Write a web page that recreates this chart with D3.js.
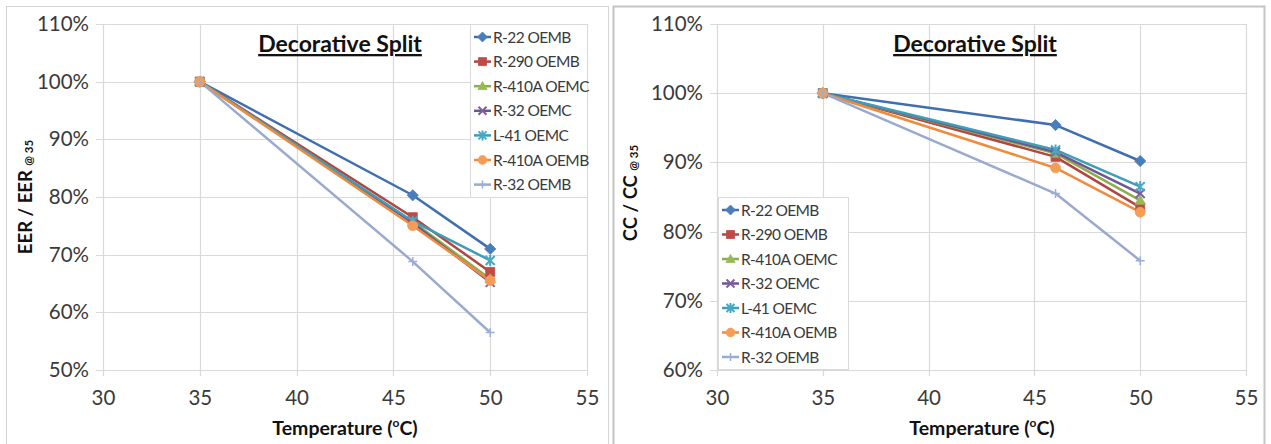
<!DOCTYPE html>
<html>
<head>
<meta charset="utf-8">
<script src="https://cdn.jsdelivr.net/npm/d3@7/dist/d3.min.js"></script>
<style>
  html, body { margin: 0; padding: 0; background: #fff; }
  svg { display: block; font-family: Lato, "Open Sans", sans-serif; }
</style>
</head>
<body>
<svg id="chart" width="1271" height="444"></svg>
<script>
// Temperatures (°C) at which each unit was tested
const temperatures = [35, 46, 50];

// Series names, in legend order
const seriesNames = ["R-22 OEMB", "R-290 OEMB", "R-410A OEMC", "R-32 OEMC", "L-41 OEMC", "R-410A OEMB", "R-32 OEMB"];

// EER normalised to the 35 °C value
const eerR22OEMB   = [1.000, 0.803, 0.710];
const eerR290OEMB  = [1.000, 0.765, 0.670];
const eerR410AOEMC = [1.000, 0.757, 0.658];
const eerR32OEMC   = [1.000, 0.755, 0.652];
const eerL41OEMC   = [1.000, 0.758, 0.690];
const eerR410AOEMB = [1.000, 0.750, 0.655];
const eerR32OEMB   = [1.000, 0.688, 0.565];

// Cooling capacity normalised to the 35 °C value
const ccR22OEMB   = [1.000, 0.954, 0.902];
const ccR290OEMB  = [1.000, 0.908, 0.835];
const ccR410AOEMC = [1.000, 0.913, 0.845];
const ccR32OEMC   = [1.000, 0.915, 0.855];
const ccL41OEMC   = [1.000, 0.918, 0.865];
const ccR410AOEMB = [1.000, 0.892, 0.828];
const ccR32OEMB   = [1.000, 0.855, 0.758];

// Axis ticks
const xTicks = [30, 35, 40, 45, 50, 55];
const eerTicks = [0.5, 0.6, 0.7, 0.8, 0.9, 1.0, 1.1];
const ccTicks = [0.6, 0.7, 0.8, 0.9, 1.0, 1.1];

const chartTitle = "Decorative Split";

// Series styling (colour + marker)
const colors = ["#4A7EBB", "#BE4B48", "#98B954", "#7D60A0", "#46AAC5", "#F59D56", "#9AAED6"];
const lineColors = ["#3F6FAE", "#B04541", "#8AAE4A", "#6E5594", "#3E9DB8", "#EE8B3E", "#9AAACF"];
const markers = ["diamond", "square", "triangle", "x", "star", "circle", "plus"];

const svg = d3.select("#chart");

// Panel frames
svg.append("rect").attr("x", 6.5).attr("y", 6.5).attr("width", 602).attr("height", 450)
  .attr("fill", "#fff").attr("stroke", "#D4D4D4").attr("stroke-width", 1);
svg.append("rect").attr("x", 613.5).attr("y", 6.5).attr("width", 651).attr("height", 450)
  .attr("fill", "#fff").attr("stroke", "#C4C4C4").attr("stroke-width", 2);

function markerPath(type, s) {
  const h = s / 2;
  switch (type) {
    case "diamond": return `M0,${-h * 1.25}L${h * 1.25},0L0,${h * 1.25}L${-h * 1.25},0Z`;
    case "square": return `M${-h},${-h}H${h}V${h}H${-h}Z`;
    case "triangle": return `M0,${-h * 1.15}L${h * 1.15},${h * 0.85}L${-h * 1.15},${h * 0.85}Z`;
    case "circle": return d3.symbol(d3.symbolCircle, Math.PI * h * h * 1.2)();
    default: return null;
  }
}

function drawMarker(g, type, x, y, color, s) {
  const m = g.append("g").attr("transform", `translate(${x},${y})`);
  const h = s / 2;
  if (type === "x") {
    m.append("path").attr("d", `M${-h},${-h}L${h},${h}M${-h},${h}L${h},${-h}`)
      .attr("stroke", color).attr("stroke-width", 2).attr("fill", "none");
  } else if (type === "star") {
    m.append("path").attr("d", `M${-h},${-h}L${h},${h}M${-h},${h}L${h},${-h}M0,${-h - 1}V${h + 1}`)
      .attr("stroke", color).attr("stroke-width", 2).attr("fill", "none");
  } else if (type === "plus") {
    m.append("path").attr("d", `M${-h - 1},0H${h + 1}M0,${-h - 1}V${h + 1}`)
      .attr("stroke", color).attr("stroke-width", 1.5).attr("fill", "none");
  } else {
    m.append("path").attr("d", markerPath(type, s)).attr("fill", color)
      .attr("stroke", color).attr("stroke-width", 0.8);
  }
}

function drawChart(cfg) {
  const x = d3.scaleLinear().domain([30, 55]).range([cfg.left, cfg.right]);
  const y = d3.scaleLinear().domain([cfg.yTicks[0], cfg.yTicks[cfg.yTicks.length - 1]]).range([cfg.bottom, cfg.top]);
  const g = svg.append("g");

  // Grid lines (extend past the plot as tick marks)
  g.append("g").selectAll("line").data(cfg.yTicks).join("line")
    .attr("x1", cfg.left - 7).attr("x2", cfg.right)
    .attr("y1", d => Math.round(y(d)) + 0.5).attr("y2", d => Math.round(y(d)) + 0.5)
    .attr("stroke", "#D9D9D9").attr("stroke-width", 1.2);
  g.append("g").selectAll("line").data(xTicks).join("line")
    .attr("y1", cfg.top).attr("y2", cfg.bottom + 6)
    .attr("x1", d => Math.round(x(d)) + 0.5).attr("x2", d => Math.round(x(d)) + 0.5)
    .attr("stroke", "#D9D9D9").attr("stroke-width", 1.2);

  // Axes labels via d3 axes
  const yAxis = d3.axisLeft(y).tickValues(cfg.yTicks).tickFormat(d3.format(".0%")).tickSize(0).tickPadding(14);
  const ya = g.append("g").attr("transform", `translate(${cfg.left},0)`).call(yAxis);
  ya.select(".domain").remove();
  ya.selectAll("text").attr("font-size", 20.5).attr("fill", "#3A3A3A").attr("font-family", "Lato, sans-serif");

  const xAxis = d3.axisBottom(x).tickValues(xTicks).tickSize(0).tickPadding(20);
  const xa = g.append("g").attr("transform", `translate(0,${cfg.bottom})`).call(xAxis);
  xa.select(".domain").remove();
  xa.selectAll("text").attr("font-size", 20.5).attr("fill", "#3A3A3A").attr("font-family", "Lato, sans-serif");

  // Chart title
  g.append("text").attr("x", cfg.titleX).attr("y", 52).attr("text-anchor", "middle")
    .attr("font-size", 23).attr("font-weight", "bold").attr("fill", "#111")
    .attr("text-decoration", "underline").text(chartTitle);

  // X axis title
  const xt = g.append("text").attr("x", cfg.xTitleX).attr("y", 435).attr("text-anchor", "middle")
    .attr("font-size", 19.5).attr("font-weight", "bold").attr("fill", "#111");
  xt.append("tspan").text("Temperature (");
  xt.append("tspan").attr("font-size", 12).attr("dy", -8).text("o");
  xt.append("tspan").attr("dy", 8).text("C)");

  // Y axis title
  const yt = g.append("text").attr("transform", `translate(${cfg.yTitleX},${cfg.yTitleY}) rotate(-90)`)
    .attr("text-anchor", "middle").attr("font-size", 18.5).attr("font-weight", "bold").attr("fill", "#111");
  yt.append("tspan").text(cfg.yLabel + " ");
  yt.append("tspan").attr("font-size", 11.5).attr("dy", 1).text("@ 35");

  // Series lines and markers
  const line = d3.line().x((d, i) => x(temperatures[i])).y(d => y(d));
  cfg.series.forEach((vals, si) => {
    g.append("path").datum(vals).attr("d", line).attr("fill", "none")
      .attr("stroke", lineColors[si]).attr("stroke-width", 2.5).attr("stroke-linejoin", "round");
  });
  cfg.series.forEach((vals, si) => {
    vals.forEach((v, i) => drawMarker(g, markers[si], x(temperatures[i]), y(v), colors[si], si === 6 ? 7 : 9));
  });

  // Legend
  const lg = g.append("g");
  lg.append("rect").attr("x", cfg.legend.x + 0.5).attr("y", cfg.legend.y + 0.5)
    .attr("width", cfg.legend.w).attr("height", cfg.legend.h)
    .attr("fill", "#fff").attr("stroke", "#D9D9D9");
  seriesNames.forEach((name, si) => {
    const cy = cfg.legend.y + 13 + si * cfg.legend.step;
    const lx = cfg.legend.x + 4;
    lg.append("line").attr("x1", lx).attr("x2", lx + 17).attr("y1", cy).attr("y2", cy)
      .attr("stroke", lineColors[si]).attr("stroke-width", 2.5);
    drawMarker(lg, markers[si], lx + 8.5, cy, colors[si], si === 6 ? 6 : 8);
    lg.append("text").attr("x", lx + 19).attr("y", cy + 5.5).attr("font-size", 15.5)
      .attr("fill", "#3A3A3A").attr("letter-spacing", -0.6).text(name);
  });
}

drawChart({
  left: 103, right: 587, top: 24, bottom: 370,
  yTicks: eerTicks,
  series: [eerR22OEMB, eerR290OEMB, eerR410AOEMC, eerR32OEMC, eerL41OEMC, eerR410AOEMB, eerR32OEMB],
  yLabel: "EER / EER", yTitleX: 32, yTitleY: 197,
  titleX: 340, xTitleX: 345,
  legend: { x: 470, y: 24, w: 117, h: 173, step: 24.6 }
});

drawChart({
  left: 717, right: 1246, top: 24, bottom: 370,
  yTicks: ccTicks,
  series: [ccR22OEMB, ccR290OEMB, ccR410AOEMC, ccR32OEMC, ccL41OEMC, ccR410AOEMB, ccR32OEMB],
  yLabel: "CC / CC", yTitleX: 637, yTitleY: 193,
  titleX: 975, xTitleX: 982,
  legend: { x: 718, y: 197, w: 130, h: 172, step: 24.5 }
});
</script>
</body>
</html>
